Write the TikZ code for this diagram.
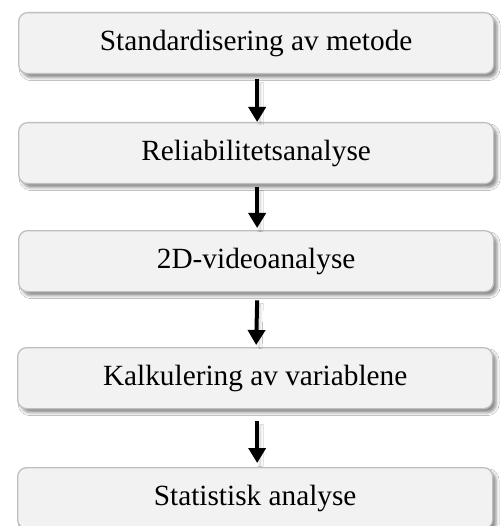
\documentclass[tikz,border=0pt]{standalone}
\usepackage{fontspec}
\setmainfont{Liberation Serif}
\usetikzlibrary{arrows.meta,shadows.blur}
\definecolor{boxfill}{HTML}{F2F2F2}
\definecolor{boxline}{HTML}{BFBFBF}
\tikzset{
  x=1pt, y=-1pt,
  stepbox/.style={draw=boxline, line width=1.3pt, fill=boxfill, rounded corners=9pt,
    minimum width=475pt, minimum height=61pt, inner sep=0pt, anchor=north west,
    font=\fontsize{29.3pt}{33pt}\selectfont,
    blur shadow={shadow xshift=3.5pt, shadow yshift=-4pt, shadow blur radius=3pt, shadow opacity=45}},
  flowarrow/.style={line width=4pt, -{Triangle[width=17pt,length=15pt]}, black,
    blur shadow={shadow xshift=3pt, shadow yshift=-3pt, shadow blur radius=3pt, shadow opacity=25}}
}
\begin{document}
\begin{tikzpicture}
\useasboundingbox (0,0) rectangle (502,526);
\clip (0,0) rectangle (502,526);
\fill[white] (0,0) rectangle (502,526);
\node[stepbox] (b1) at (18,12) {Standardisering av metode};
\node[stepbox] (b2) at (18,122) {Reliabilitetsanalyse};
\node[stepbox] (b3) at (18,230) {2D-videoanalyse};
\node[stepbox] (b4) at (17,347) {Kalkulering av variablene};
\node[stepbox] (b5) at (17,467) {Statistisk analyse};
\draw[flowarrow] ([xshift=1pt,yshift=-5pt]b1.south) -- ([xshift=1pt]b2.north);
\draw[flowarrow] ([xshift=1pt,yshift=-3pt]b2.south) -- ([xshift=1pt,yshift=2pt]b3.north);
\draw[flowarrow] ([xshift=1pt,yshift=-8pt]b3.south) -- ([xshift=1pt,yshift=2pt]b4.north);
\draw[flowarrow] ([xshift=2pt,yshift=-12pt]b4.south) -- ([xshift=2pt,yshift=4pt]b5.north);
\end{tikzpicture}
\end{document}
